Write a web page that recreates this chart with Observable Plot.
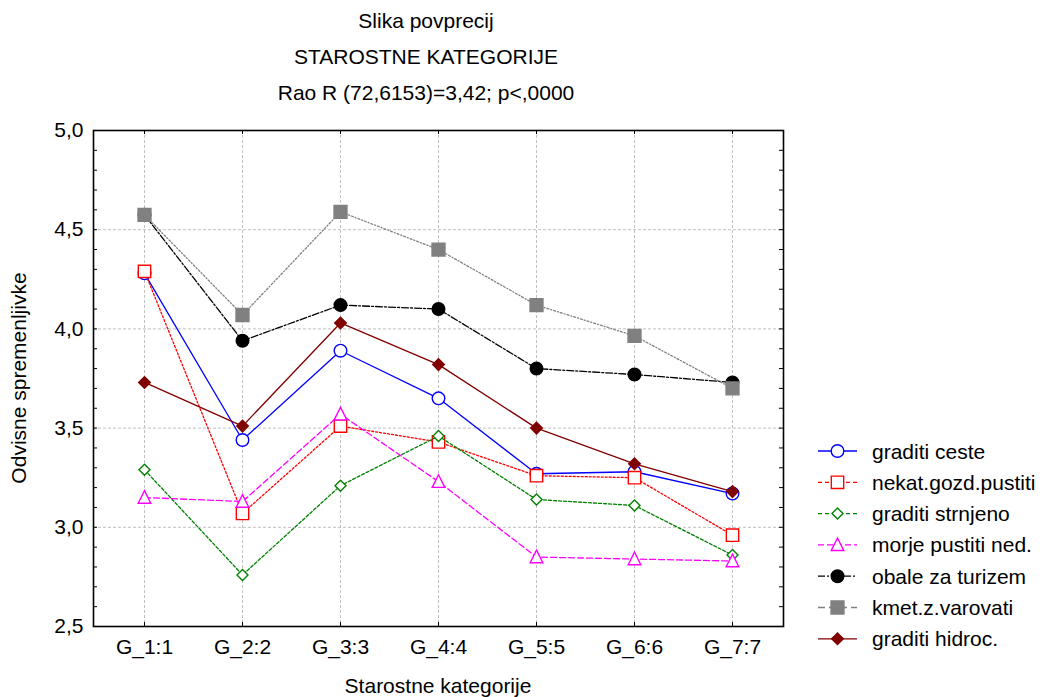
<!DOCTYPE html>
<html>
<head>
<meta charset="utf-8">
<script src="https://cdn.jsdelivr.net/npm/d3@7"></script>
<script src="https://cdn.jsdelivr.net/npm/@observablehq/plot@0.6"></script>
<style>
  body { margin: 0; background: white; }
  #wrap { position: relative; width: 1045px; height: 697px; font-family: "Liberation Sans", Arial, sans-serif; }
  #wrap > svg { position: absolute; left: 0; top: 0; }
  #overlay { pointer-events: none; }
</style>
</head>
<body>
<div id="wrap"></div>
<script>
// ---- data ----
const categories = ["G_1:1", "G_2:2", "G_3:3", "G_4:4", "G_5:5", "G_6:6", "G_7:7"];
const seriesNames = ["graditi ceste", "nekat.gozd.pustiti", "graditi strnjeno", "morje pustiti ned.", "obale za turizem", "kmet.z.varovati", "graditi hidroc."];
const graditiCeste   = [4.28, 3.44, 3.89, 3.65, 3.27, 3.28, 3.17];
const nekatGozd      = [4.29, 3.07, 3.51, 3.43, 3.26, 3.25, 2.96];
const graditiStrnj   = [3.29, 2.76, 3.21, 3.46, 3.14, 3.11, 2.86];
const morjePustiti   = [3.15, 3.13, 3.57, 3.23, 2.85, 2.84, 2.83];
const obaleTurizem   = [4.575, 3.94, 4.12, 4.10, 3.80, 3.77, 3.73];
const kmetVarovati   = [4.575, 4.07, 4.59, 4.40, 4.12, 3.965, 3.70];
const graditiHidroc  = [3.73, 3.51, 4.03, 3.82, 3.50, 3.32, 3.18];
const seriesValues = [graditiCeste, nekatGozd, graditiStrnj, morjePustiti, obaleTurizem, kmetVarovati, graditiHidroc];
const yMajorTicks = [2.5, 3.0, 3.5, 4.0, 4.5, 5.0];
const yMinorTicks = d3.range(26).map(i => +(2.5 + i * 0.1).toFixed(1));
const titleLines = ["Slika povprecij", "STAROSTNE KATEGORIJE", "Rao R (72,6153)=3,42; p<,0000"];
const xLabel = "Starostne kategorije";
const yLabel = "Odvisne spremenljivke";

// ---- symbols ----
const rOf = size => Math.sqrt(size / Math.PI);
const symSquare = { draw(ctx, size) { const h = rOf(size) * 0.95; ctx.moveTo(-h, -h); ctx.lineTo(h, -h); ctx.lineTo(h, h); ctx.lineTo(-h, h); ctx.closePath(); } };
const symDiamond = { draw(ctx, size) { const h = rOf(size); ctx.moveTo(0, -h); ctx.lineTo(h, 0); ctx.lineTo(0, h); ctx.lineTo(-h, 0); ctx.closePath(); } };
const symTriangle = { draw(ctx, size) { const r = rOf(size); ctx.moveTo(0, -1.1 * r); ctx.lineTo(r, 0.9 * r); ctx.lineTo(-r, 0.9 * r); ctx.closePath(); } };
const symCircle = d3.symbolCircle;

const styles = [
  { color: "#0000ff", dash: null,      symbol: symCircle,   fill: "white",   r: 6.3 },
  { color: "#ff0000", dash: "2,2",     symbol: symSquare,   fill: "white",   r: 6.5 },
  { color: "#008000", dash: "3,2",     symbol: symDiamond,  fill: "white",   r: 5.5 },
  { color: "#ff00ff", dash: "6,3",     symbol: symTriangle, fill: "white",   r: 6.3 },
  { color: "#000000", dash: "7,2,2,2", symbol: symCircle,   fill: "#000000", r: 6.3 },
  { color: "#808080", dash: "2,2,1,2", symbol: symSquare,   fill: "#808080", r: 6.8 },
  { color: "#800000", dash: null,      symbol: symDiamond,  fill: "#800000", r: 5.8 }
];

const table = seriesNames.flatMap((s, i) => categories.map((c, j) => ({ series: s, cat: c, value: seriesValues[i][j] })));

const W = 1045, H = 697;
const mL = 93, mR = 262, mT = 130, mB = 71;
const frameW = W - mL - mR, frameH = H - mT - mB;
const fmt = d => d.toFixed(1).replace(".", ",");
const gridStyle = { stroke: "#c0c0c0", strokeOpacity: 1, strokeDasharray: "3,2", strokeWidth: 1 };

const seriesMarks = seriesNames.flatMap((s, i) => {
  const st = styles[i];
  const d = table.filter(t => t.series === s);
  return [
    Plot.line(d, { x: "cat", y: "value", stroke: st.color, strokeWidth: 1.3, strokeDasharray: st.dash ?? undefined }),
    Plot.dot(d, { x: "cat", y: "value", symbol: st.symbol, r: st.r, fill: st.fill, stroke: st.color, strokeWidth: 1.4 })
  ];
});

const chart = Plot.plot({
  width: W, height: H,
  marginLeft: mL, marginRight: mR, marginTop: mT, marginBottom: mB,
  style: { fontFamily: "'Liberation Sans', Arial, sans-serif", fontSize: "21px", background: "white", color: "black", overflow: "visible" },
  x: { type: "point", domain: categories, padding: 0.5 },
  y: { domain: [2.5, 5] },
  marks: [
    Plot.gridX(categories, { x: d => d, ...gridStyle }),
    Plot.gridY([3.0, 3.5, 4.0, 4.5], { y: d => d, ...gridStyle }),
    Plot.axisY(yMajorTicks, { tickSize: 0, tickPadding: 10, tickFormat: fmt, label: null, fontSize: 21 }),
    Plot.axisX(categories, { tickSize: 0, tickPadding: 13, label: null, fontSize: 21 }),
    Plot.tickY(yMinorTicks, { y: d => d, insetRight: frameW - 4, stroke: "black" }),
    Plot.tickY(yMinorTicks, { y: d => d, insetLeft: frameW - 4, stroke: "black" }),
    Plot.tickX(categories, { x: d => d, insetBottom: frameH - 4, stroke: "black" }),
    Plot.tickX(categories, { x: d => d, insetTop: frameH - 4, stroke: "black" }),
    ...seriesMarks,
    Plot.frame({ stroke: "black", strokeWidth: 1.6 })
  ]
});
document.getElementById("wrap").appendChild(chart);

// ---- overlay: titles, axis labels, legend ----
const ov = d3.select("#wrap").append("svg").attr("id", "overlay")
  .attr("width", W).attr("height", H)
  .style("font-family", "'Liberation Sans', Arial, sans-serif").style("font-size", "21px");

ov.selectAll("text.title").data(titleLines).join("text")
  .attr("class", "title")
  .attr("x", 426).attr("y", (d, i) => 20 + i * 36)
  .attr("text-anchor", "middle").attr("dominant-baseline", "central")
  .text(d => d);

ov.append("text").attr("x", mL + frameW / 2).attr("y", 685)
  .attr("text-anchor", "middle").attr("dominant-baseline", "central").text(xLabel);

ov.append("text").attr("transform", `translate(18,${mT + frameH / 2}) rotate(-90)`)
  .attr("text-anchor", "middle").attr("dominant-baseline", "central").text(yLabel);

const lg = ov.append("g");
seriesNames.forEach((s, i) => {
  const st = styles[i];
  const y = 451 + i * 31.3;
  const g = lg.append("g").attr("transform", `translate(0,${y})`);
  g.append("line").attr("x1", 818).attr("x2", 857).attr("y1", 0).attr("y2", 0)
    .attr("stroke", st.color).attr("stroke-width", 1.3)
    .attr("stroke-dasharray", st.dash ? (st.dash === "2,2" || st.dash === "3,2" ? "4,3" : st.dash === "2,2,1,2" ? "7,4" : st.dash) : null);
  g.append("path").attr("transform", "translate(837.5,0)")
    .attr("d", d3.symbol(st.symbol, Math.PI * st.r * st.r)())
    .attr("fill", st.fill).attr("stroke", st.color).attr("stroke-width", 1.4);
  g.append("text").attr("x", 872).attr("y", 0).attr("dominant-baseline", "central").text(s);
});
</script>
</body>
</html>
